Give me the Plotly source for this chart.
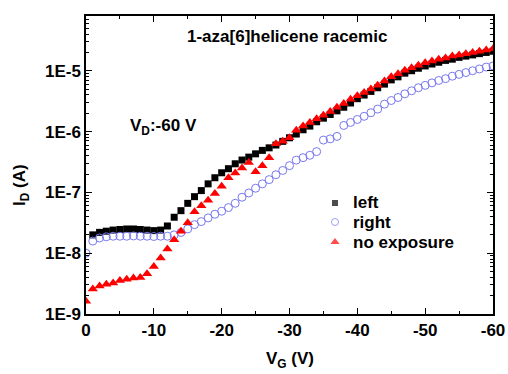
import plotly.graph_objects as go

# Gate voltage (V), 1 V steps
vg_all = [0, -1, -2, -3, -4, -5, -6, -7, -8, -9, -10, -11, -12, -13, -14, -15, -16, -17, -18, -19, -20,
          -21, -22, -23, -24, -25, -26, -27, -28, -29, -30, -31, -32, -33, -34, -35, -36, -37, -38, -39, -40,
          -41, -42, -43, -44, -45, -46, -47, -48, -49, -50, -51, -52, -53, -54, -55, -56, -57, -58, -59, -60]
vg_left = vg_all[1:]

# I_D (A)
left = [2.0e-8, 2.2e-8, 2.3e-8, 2.4e-8, 2.45e-8, 2.5e-8, 2.5e-8, 2.45e-8, 2.4e-8, 2.35e-8,
        2.4e-8, 2.8e-8, 3.9e-8, 5.0e-8, 6.6e-8, 8.5e-8, 1.07e-7, 1.38e-7, 1.74e-7, 2.1e-7,
        2.45e-7, 2.95e-7, 3.4e-7, 3.8e-7, 4.3e-7, 4.9e-7, 5.4e-7, 6.0e-7, 6.9e-7, 7.9e-7,
        9.1e-7, 1.07e-6, 1.23e-6, 1.45e-6, 1.66e-6, 1.91e-6, 2.19e-6, 2.51e-6, 2.95e-6, 3.47e-6,
        3.98e-6, 4.57e-6, 5.25e-6, 6.03e-6, 7.08e-6, 7.94e-6, 9.12e-6, 1.00e-5, 1.10e-5, 1.20e-5,
        1.29e-5, 1.38e-5, 1.48e-5, 1.55e-5, 1.66e-5, 1.74e-5, 1.82e-5, 1.91e-5, 2.00e-5, 2.09e-5]

right = [1.0e-8, 1.58e-8, 1.78e-8, 1.86e-8, 1.9e-8, 1.9e-8, 1.9e-8, 1.92e-8, 1.9e-8, 1.9e-8,
         1.88e-8, 1.9e-8, 1.9e-8, 2.0e-8, 2.19e-8, 2.51e-8, 2.95e-8, 3.31e-8, 3.80e-8, 4.37e-8,
         4.90e-8, 5.62e-8, 6.61e-8, 8.32e-8, 9.77e-8, 1.17e-7, 1.38e-7, 1.62e-7, 1.95e-7, 2.29e-7,
         2.75e-7, 3.39e-7, 3.72e-7, 4.07e-7, 4.68e-7, 7.24e-7, 7.59e-7, 8.32e-7, 1.26e-6, 1.41e-6,
         1.58e-6, 1.78e-6, 2.04e-6, 2.34e-6, 2.82e-6, 3.24e-6, 3.63e-6, 4.17e-6, 4.68e-6, 5.25e-6,
         5.75e-6, 6.31e-6, 6.92e-6, 7.41e-6, 8.13e-6, 8.71e-6, 9.33e-6, 1.00e-5, 1.07e-5, 1.15e-5,
         1.20e-5]

no_exposure = [1.62e-9, 2.57e-9, 2.88e-9, 3.09e-9, 3.24e-9, 3.55e-9, 3.72e-9, 3.89e-9, 3.98e-9, 4.57e-9,
               6.03e-9, 8.32e-9, 1.17e-8, 1.66e-8, 2.29e-8, 3.16e-8, 4.79e-8, 6.03e-8, 7.41e-8, 9.55e-8,
               1.26e-7, 1.74e-7, 2.09e-7, 2.51e-7, 3.09e-7, 2.19e-7, 2.75e-7, 3.72e-7, 6.31e-7, 6.92e-7,
               7.94e-7, 1.05e-6, 1.23e-6, 1.41e-6, 1.62e-6, 1.86e-6, 2.14e-6, 2.51e-6, 2.88e-6, 3.39e-6,
               3.89e-6, 4.37e-6, 5.01e-6, 5.75e-6, 6.76e-6, 7.94e-6, 8.91e-6, 1.02e-5, 1.12e-5, 1.23e-5,
               1.35e-5, 1.45e-5, 1.55e-5, 1.62e-5, 1.74e-5, 1.82e-5, 1.91e-5, 2.00e-5, 2.09e-5, 2.19e-5,
               2.29e-5]

series_names = ["left", "right", "no exposure"]
x_ticks = [0, -10, -20, -30, -40, -50, -60]
x_ticklabels = ["0", "-10", "-20", "-30", "-40", "-50", "-60"]
y_ticks = [1e-9, 1e-8, 1e-7, 1e-6, 1e-5]
y_ticklabels = ["1E-9", "1E-8", "1E-7", "1E-6", "1E-5"]
x_range = [0, -60]
y_range_log = [-9, -4.1]

FONT = "Liberation Sans, Arial, sans-serif"
BLUE = "#7878f0"
RED = "#ff0000"

# plot-area geometry (px)
W, H = 508, 374
L, R, T, B = 86, 15, 16, 60
PW, PH = W - L - R, H - T - B


def px(xp):
    return (xp - L) / PW


def py(yp):
    return (H - B - yp) / PH


fig = go.Figure()
fig.add_trace(go.Scatter(x=vg_left, y=left, mode="markers", name=series_names[0], showlegend=False,
                         marker=dict(symbol="square", size=7, color="black")))
fig.add_trace(go.Scatter(x=vg_all, y=right, mode="markers", name=series_names[1], showlegend=False,
                         marker=dict(symbol="circle-open", size=8, color=BLUE,
                                     line=dict(width=1, color=BLUE))))
fig.add_trace(go.Scatter(x=vg_all, y=no_exposure, mode="markers", name=series_names[2], showlegend=False,
                         marker=dict(symbol="triangle-up", size=9, color=RED)))
# invisible trace to carry the mirrored (top/right) tick axes
fig.add_trace(go.Scatter(x=[vg_all[0]], y=[right[0]], xaxis="x2", yaxis="y2", mode="markers",
                         marker=dict(opacity=0), showlegend=False, hoverinfo="skip"))

# legend keys (manual, on a unit overlay axis)
legend_rows_y = [203, 222, 242]
fig.add_trace(go.Scatter(x=[px(335)] * 3, y=[py(v) for v in legend_rows_y], xaxis="x3", yaxis="y3",
                         mode="markers", showlegend=False, hoverinfo="skip",
                         marker=dict(symbol=["square", "circle-open", "triangle-up"], size=[6, 7, 8],
                                     color=["black", BLUE, RED],
                                     line=dict(width=[0, 1, 0], color=["black", BLUE, RED]))))
for name, yy in zip(series_names, legend_rows_y):
    fig.add_annotation(text=name, xref="paper", yref="paper", x=px(351), y=py(yy),
                       xanchor="left", yanchor="middle", showarrow=False,
                       font=dict(family=FONT, size=17, color="black", weight="bold"))

tickfont = dict(family=FONT, size=17, color="black", weight="bold")
common = dict(showline=True, linecolor="black", linewidth=1.5, ticks="inside", tickwidth=1.2,
              tickcolor="black", showgrid=False, zeroline=False, automargin=False)

fig.update_layout(
    width=W, height=H,
    margin=dict(l=L, r=R, t=T, b=B),
    paper_bgcolor="white", plot_bgcolor="white",
    showlegend=False,
    xaxis=dict(range=x_range, tickvals=x_ticks, ticktext=x_ticklabels, ticklen=6, tickfont=tickfont,
               minor=dict(ticks="inside", ticklen=3, tickcolor="black", dtick=5, tick0=0, showgrid=False),
               **common),
    yaxis=dict(type="log", range=y_range_log, tickvals=y_ticks, ticktext=y_ticklabels, ticklen=6,
               tickfont=tickfont,
               minor=dict(ticks="inside", ticklen=3, tickcolor="black", dtick="D1", showgrid=False),
               **common),
    xaxis2=dict(range=x_range, overlaying="x", side="top", anchor="y2", tickvals=x_ticks,
                showticklabels=False, ticklen=6,
                minor=dict(ticks="inside", ticklen=3, tickcolor="black", dtick=5, tick0=0, showgrid=False),
                **common),
    yaxis2=dict(type="log", range=y_range_log, overlaying="y", side="right", anchor="x2",
                tickvals=y_ticks, showticklabels=False, ticklen=6,
                minor=dict(ticks="inside", ticklen=3, tickcolor="black", dtick="D1", showgrid=False),
                **common),
    xaxis3=dict(range=[0, 1], overlaying="x", visible=False, anchor="y3"),
    yaxis3=dict(range=[0, 1], overlaying="y", visible=False, anchor="x3"),
)

# text labels
lab = dict(xref="paper", yref="paper", showarrow=False, yanchor="middle",
           font=dict(family=FONT, size=17, color="black", weight="bold"))
fig.add_annotation(text="1-aza[6]helicene racemic", x=px(287), y=py(37), xanchor="center", **lab)
fig.add_annotation(text="V<sub>D</sub>:-60 V", x=px(128), y=py(127), xanchor="left", **lab)
fig.add_annotation(text="V<sub>G</sub> (V)", x=px(290), y=py(360), xanchor="center", **lab)
fig.add_annotation(text="I<sub>D</sub> (A)", textangle=-90, x=px(21), y=py(185), xanchor="center", **lab)

fig.write_html("out.html", config={"displayModeBar": False},
               post_script="document.body.style.margin='0px';")
